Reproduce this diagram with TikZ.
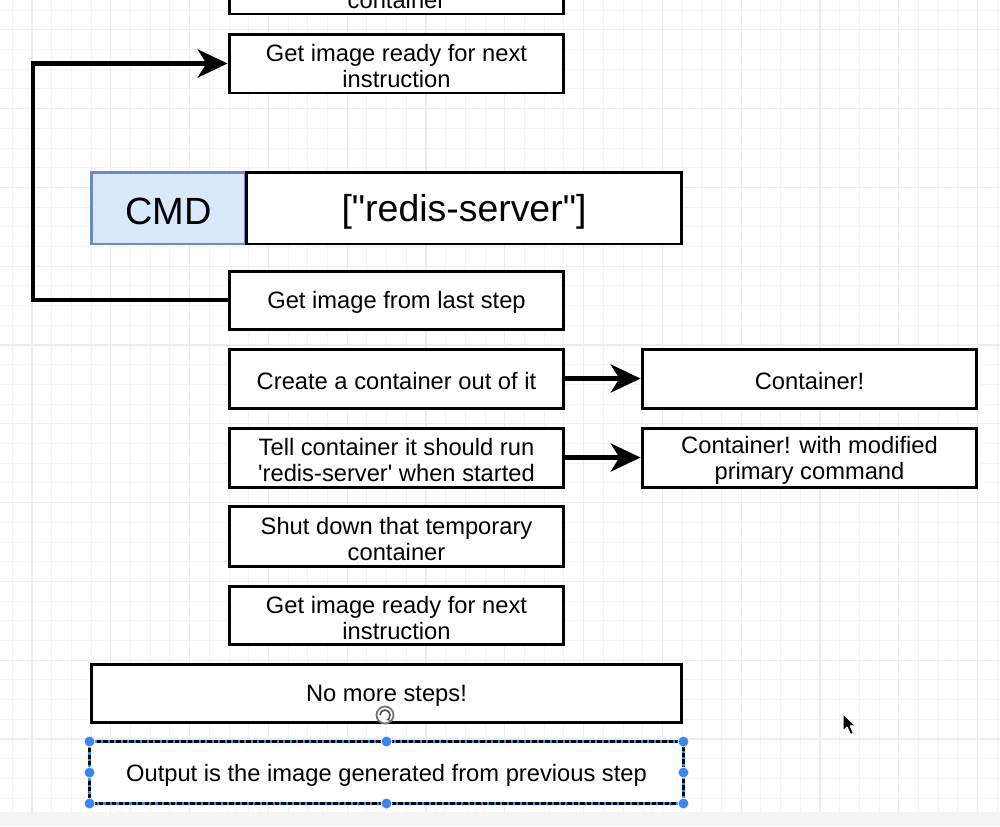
\documentclass[tikz,border=0pt]{standalone}
\usepackage{fontspec}
\setmainfont[Ligatures=TeXOff]{Liberation Sans}
\usetikzlibrary{arrows.meta,calc}
\definecolor{gridminor}{HTML}{F4F4F4}
\definecolor{gridmajor}{HTML}{EDEDED}
\definecolor{cmdfill}{HTML}{DAE8FC}
\definecolor{cmdline}{HTML}{6C8EBF}
\definecolor{handle}{HTML}{3B87F0}
\tikzset{
  lbl/.style={align=center, inner sep=0pt, yshift=-1.6pt, font=\fontsize{13.5}{14.8}\selectfont},
  box/.style={draw=black, line width=1.7pt, fill=white, inner sep=0pt},
  wide/.style={box, minimum width=6.7cm, minimum height=1.18cm},
  txt/.style={label={[lbl]center:#1}},
  flow/.style={line width=2.3pt, -{Stealth[length=17pt,width=16pt,inset=5pt]}},
  hnd/.style={circle, fill=handle, draw=white, line width=0.4pt, inner sep=0pt, minimum size=0.22cm},
}
\begin{document}
\begin{tikzpicture}[x=0.02cm, y=-0.02cm]
\useasboundingbox (0,0) rectangle (1000,826);
\clip (0,0) rectangle (1000,826);
\fill[white] (0,0) rectangle (1000,826);
% grid
\foreach \i in {-2,...,50} {
  \draw[gridminor, line width=0.5pt] ({32+19.7*\i},0) -- ({32+19.7*\i},826);
  \draw[gridminor, line width=0.5pt] (0,{739+19.7*(\i-40)}) -- (1000,{739+19.7*(\i-40)});
}
\foreach \i in {-1,...,13} {
  \draw[gridmajor, line width=0.6pt] ({32+78.8*\i},0) -- ({32+78.8*\i},826);
  \draw[gridmajor, line width=0.6pt] (0,{739+78.8*(\i-9)}) -- (1000,{739+78.8*(\i-9)});
}
\fill[black!4] (0,812) rectangle (1000,826);

% boxes
\node[wide, minimum height=1.2cm, txt={Shut down that temporary\\container}] (prev) at (396.5,-16) {};
\node[wide, txt={Get image ready for next\\instruction}] (ready1) at (396.5,63.5) {};
\node[box, fill=cmdfill, draw=cmdline, minimum width=3.1cm, minimum height=1.44cm,
      label={[lbl, yshift=-0.6pt, font=\fontsize{21.6}{24}\selectfont]center:CMD}] (cmd) at (168.5,208) {};
\node[box, minimum width=8.72cm, minimum height=1.44cm,
      label={[lbl, yshift=-0.6pt, font=\fontsize{21.3}{24}\selectfont]center:["redis-server"]}] (arg) at (464,208) {};
\node[wide, minimum height=1.16cm, txt={Get image from last step}] (last) at (396.5,300) {};
\node[wide, txt={Create a container out of it}] (create) at (396.5,378.5) {};
\node[wide, txt={Container!}] (cont1) at (809.5,378.5) {};
\node[wide, txt={Tell container it should run\\'redis-server' when started}] (tell) at (396.5,457.5) {};
\node[wide, txt={Container! with modified\\primary command}] (cont2) at (809.5,457.5) {};
\node[wide, minimum height=1.2cm, txt={Shut down that temporary\\container}] (shut) at (396.5,536) {};
\node[wide, minimum height=1.16cm, txt={Get image ready for next\\instruction}] (ready2) at (396.5,615) {};
\node[box, minimum width=11.82cm, minimum height=1.16cm, txt={No more steps!}] (nomore) at (386.5,693) {};
\node[box, draw=none, minimum width=11.82cm, minimum height=1.18cm] (output) at (386.5,772.5) {};

% selection on output box
\draw[handle, line width=1.4pt] (output.north west) rectangle (output.south east);
\draw[black, line width=1.4pt, dash pattern=on 2.5pt off 1.2pt] (output.north west) rectangle (output.south east);
\node[lbl] (outtext) at (output.center) {Output is the image generated from previous step};
\foreach \a in {north west,north,north east,west,east,south west,south,south east}
  \node[hnd] at (output.\a) {};

% rotate icon
\coordinate (rot) at (385,715);
\draw[black!55, line width=1pt, fill=white] (rot) circle (0.17cm);
\draw[black!70, line width=0.9pt, -{Stealth[length=2.5pt]}] ($(rot)+(-0.1cm,0)$) arc[start angle=180, end angle=-80, radius=0.1cm];

% connectors
\coordinate (loopx) at (33,0);
\draw[flow] (last.west) -- (last.west -| loopx) |- (ready1.west);
\draw[flow] (create.east) -- (cont1.west);
\draw[flow] (tell.east) -- (cont2.west);

% mouse cursor
\coordinate (cur) at (843,714);
\filldraw[fill=black, draw=white, line width=0.6pt, line join=round]
  (cur) -- ++(0,17) -- ++(4,-4) -- ++(3.5,7.5) -- ++(3,-1.3) -- ++(-3.3,-7.2) -- ++(5.6,0) -- cycle;
\end{tikzpicture}
\end{document}
